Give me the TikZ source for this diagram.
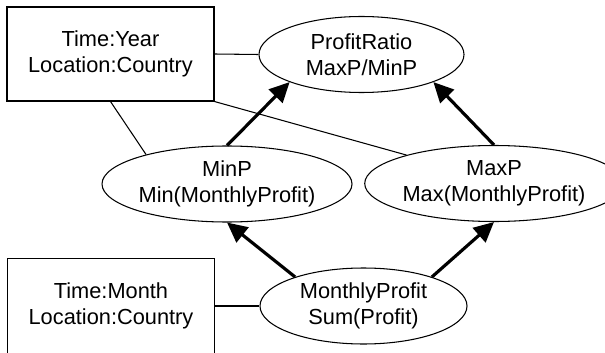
\documentclass[tikz,border=0pt]{standalone}
\usepackage{fontspec}
\setmainfont{Liberation Sans}
\usepackage{tikz}
\usetikzlibrary{arrows.meta,shapes.geometric,positioning}
\tikzset{
    levelbox/.style={draw, line width=0.6pt, minimum width=4.14cm, minimum height=1.88cm, align=center, inner sep=0pt},
    measure/.style={draw, ellipse, line width=0.6pt, minimum height=1.52cm, align=center, inner sep=0pt},
    link/.style={line width=0.6pt},
    derive/.style={-{Triangle[length=0.4cm, width=0.38cm]}, line width=1.8pt}
}

\begin{document}
\begin{tikzpicture}[font=\fontsize{12.4}{14.8}\selectfont]
    \useasboundingbox (0,0) rectangle (12.1,7.04);

    % Aggregation levels
    \node[levelbox] (year) at (2.21,5.96) {Time:Year\\Location:Country};
    \node[levelbox, minimum height=1.9cm] (month) at (2.22,0.92) {Time:Month\\Location:Country};

    % Measures
    \node[measure, minimum width=4.1cm] (ratio) at (7.23,5.95) {ProfitRatio\\MaxP/MinP};
    \node[measure, minimum width=4.56cm] (minp) at (4.54,3.36) {MinP\\Min(MonthlyProfit)};
    \node[measure, minimum width=4.4cm] (maxp) at (9.88,3.37) {MaxP\\Max(MonthlyProfit)};
    \node[measure, minimum width=4.14cm] (monthly) at (7.27,0.92) {MonthlyProfit\\Sum(Profit)};

    % Level links
    \draw[link] (year.east) -- (ratio.west);
    \draw[link] (year.south) -- (minp.160);
    \draw[link] (year.south east) -- (maxp.162);
    \draw[link] (month.east) -- (monthly.west);

    % Derivations
    \draw[derive] (monthly.157) -- (minp.south);
    \draw[derive] (monthly.23) -- (maxp.south);
    \draw[derive] (minp.north) -- (ratio.201);
    \draw[derive] (maxp.north) -- (ratio.339);
\end{tikzpicture}
\end{document}
